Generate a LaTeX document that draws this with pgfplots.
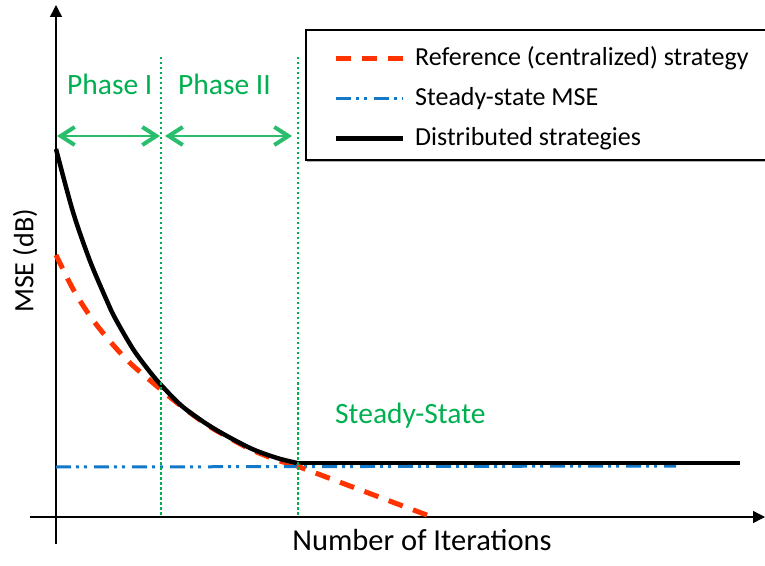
\documentclass[border=0pt]{standalone}
\usepackage{fontspec}
\setmainfont{Carlito}
\usepackage{pgfplots}
\pgfplotsset{compat=1.18}
\usetikzlibrary{arrows.meta}

\definecolor{refred}{RGB}{255,51,0}
\definecolor{ssblue}{RGB}{20,120,200}
\definecolor{phgreen}{RGB}{0,176,80}
\definecolor{argreen}{RGB}{40,190,110}

\begin{document}
\begin{tikzpicture}
\begin{axis}[
  x=1pt, y=1pt,
  xmin=-26, xmax=709, ymin=-27, ymax=512,
  axis lines=middle,
  axis line style={line width=1.4pt, -{Triangle[length=12pt,width=12pt]}},
  xtick=\empty, ytick=\empty,
  clip=false,
  legend cell align=left,
  legend style={at={(axis cs:277,471)}, anchor=north west, draw=none, fill=none,
    font=\fontsize{26pt}{30pt}\selectfont, inner sep=0pt, row sep=15pt,
    nodes={inner sep=0pt, text height=19pt, text depth=6pt},
    column sep=0pt},
  legend image code/.code={\draw[#1] (0pt,0pt) -- (67pt,0pt) node[right=9pt, inner sep=0pt] {};},
]
% legend frame with a faint shadow
\draw[gray!60, line width=2pt] (axis cs:251,355.5) -- (axis cs:715,355.5);
\draw[black, line width=1.3pt, fill=white] (axis cs:250,487) rectangle (axis cs:716,357);

% centralized reference: curved part, then straight tail
\addplot[refred, line width=5pt, dash pattern=on 15pt off 11pt, smooth, tension=0.5]
  coordinates {(0,262) (17,228) (34,201) (52,178) (73,155) (96,135) (120,115) (144,97) (161,86) (194,68) (221,57) (241,51)};
\addlegendentry{Reference (centralized) strategy}

% steady-state level
\addplot[ssblue, line width=3pt, dash pattern=on 15pt off 5pt on 3pt off 5pt on 3pt off 7pt]
  coordinates {(0,50) (620,51)};
\addlegendentry{Steady-state MSE}

% distributed learning curve
\addplot[black, line width=4.5pt, smooth, tension=0.5]
  coordinates {(0,368) (17,305) (34,256) (51,216) (59,199) (77,168) (94,145) (106,131) (127,110) (157,89) (194,69) (221,59) (241,54)};
\addlegendentry{Distributed strategies}

\addplot[black, line width=4.5pt, forget plot] coordinates {(241,54) (684,54)};
\addplot[refred, line width=5pt, dash pattern=on 15pt off 11pt, dash phase=6pt, forget plot]
  coordinates {(241,51) (376,0)};

% phase boundaries
\addplot[phgreen, line width=2.5pt, dash pattern=on 2.5pt off 2.5pt, forget plot] coordinates {(105,460) (105,0)};
\addplot[phgreen, line width=2.5pt, dash pattern=on 2.5pt off 2.5pt, forget plot] coordinates {(242,460) (242,0)};

% phase extents
\addplot[argreen, line width=2.5pt, {Straight Barb[length=14pt,width=18pt,line width=4pt]}-{Straight Barb[length=14pt,width=18pt,line width=4pt]}, forget plot]
  coordinates {(1,381) (104,381)};
\addplot[argreen, line width=2.5pt, {Straight Barb[length=14pt,width=18pt,line width=4pt]}-{Straight Barb[length=14pt,width=18pt,line width=4pt]}, forget plot]
  coordinates {(109,381) (236,381)};

\node[phgreen, anchor=base west, inner sep=0pt, font=\fontsize{29.5pt}{34pt}\selectfont] at (axis cs:11,422) {Phase I};
\node[phgreen, anchor=base west, inner sep=0pt, font=\fontsize{29.5pt}{34pt}\selectfont] at (axis cs:122,422) {Phase II};
\node[phgreen, anchor=base west, inner sep=0pt, font=\fontsize{29.5pt}{34pt}\selectfont] at (axis cs:279,94) {Steady-State};

\node[anchor=base, inner sep=0pt, font=\fontsize{30.5pt}{34pt}\selectfont] at (axis cs:366,-33) {Number of Iterations};
\node[rotate=90, anchor=center, inner sep=0pt, font=\fontsize{28pt}{32pt}\selectfont] at (axis cs:-31,256) {MSE (dB)};

\coordinate (bbl) at (axis cs:-56,-48);
\coordinate (btr) at (axis cs:709,517);
\end{axis}
\pgfresetboundingbox
\path (bbl) rectangle (btr);
\end{tikzpicture}
\end{document}
